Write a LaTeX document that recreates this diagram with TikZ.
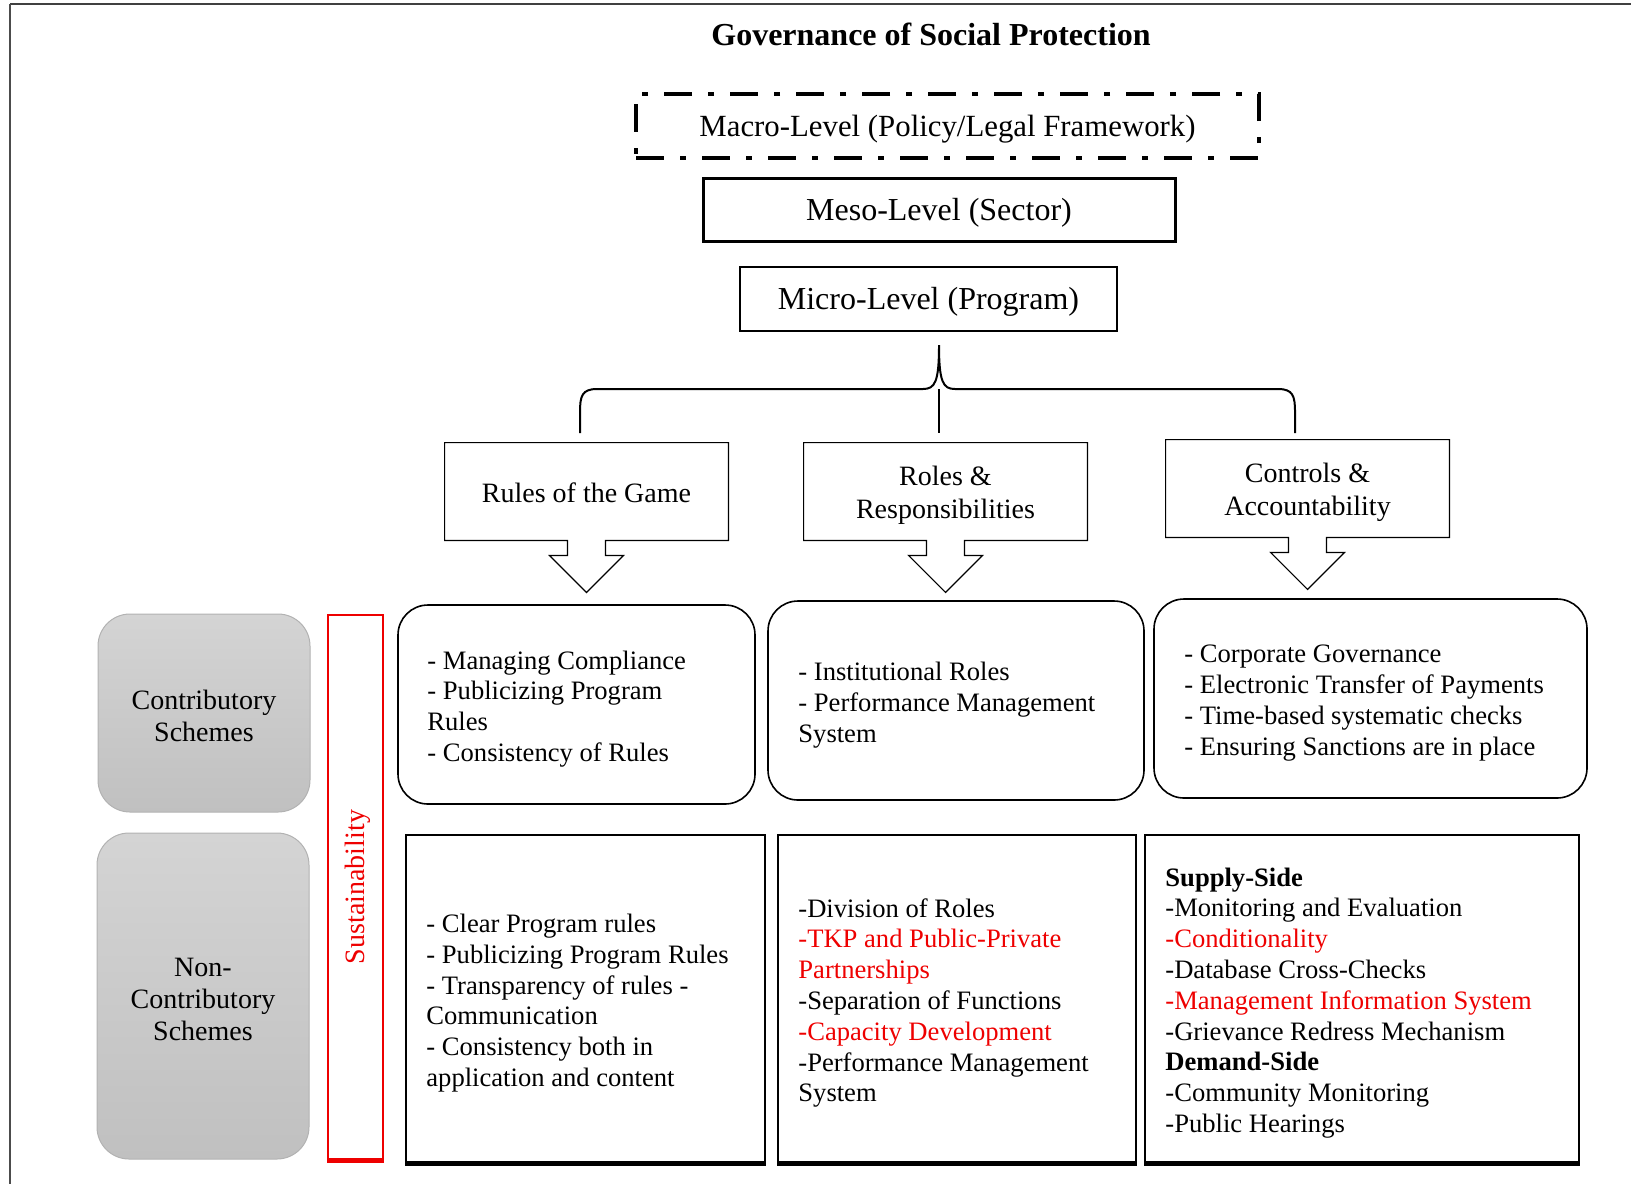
\documentclass[tikz,border=0pt]{standalone}
\usepackage{fontspec}
\setmainfont{Liberation Serif}
\definecolor{sred}{RGB}{238,0,0}
\definecolor{gtop}{RGB}{212,212,212}
\definecolor{gbot}{RGB}{192,192,192}
\begin{document}
\begin{tikzpicture}[x=0.5pt,y=-0.5pt,
  lvltext/.style={font=\fontsize{16}{19}\selectfont, inner sep=0pt, text height=13pt, text depth=2.5pt},
  calltext/.style={font=\fontsize{14}{16.5}\selectfont, align=center, inner sep=0pt},
  bodytext/.style={font=\fontsize{13.3}{15.4}\selectfont, align=left, inner sep=0pt, anchor=west},
  callbox/.style={minimum width=141.5pt, minimum height=48.5pt, inner sep=0pt},
  roundbox/.style={draw, line width=0.8pt, rounded corners=15pt, minimum height=99.5pt, inner sep=0pt},
  sqbox/.style={draw, line width=0.9pt, minimum height=163.5pt, inner sep=0pt},
  graybox/.style={draw=black!30, line width=0.5pt, rounded corners=16pt, top color=gtop, bottom color=gbot, minimum width=106pt, inner sep=0pt, align=center, font=\fontsize{14}{16}\selectfont},
  callarrow/.style={line width=0.6pt}
]
\useasboundingbox (0,0) rectangle (1631,1184);
% frame
\coordinate (ftl) at (10,4);
\coordinate (ftr) at (1631,4);
\coordinate (fbl) at (10,1184);
\draw[line width=1.1pt, black!75] (ftl) -- (ftr);
\draw[line width=0.6pt, black!70] (ftl) -- (fbl);

% title
\node (title) at (931,34) {\fontsize{16}{19}\selectfont\bfseries Governance of Social Protection};

% levels
\node (macro) [draw, line width=2.2pt, dash pattern=on 14pt off 8pt on 3pt off 8pt, minimum width=311.5pt, minimum height=32pt, lvltext, font=\fontsize{15.4}{18}\selectfont] at (947.5,126) {Macro-Level (Policy/Legal Framework)};
\node (meso) [draw, line width=1.5pt, minimum width=236pt, minimum height=31.5pt, lvltext] at (939,209.5) {Meso-Level (Sector)};
\node (micro) [draw, line width=1pt, minimum width=188.5pt, minimum height=32pt, lvltext] at (928.5,299) {Micro-Level (Program)};

% callout boxes
\node (rules) [callbox] at (586.5,491.5) {};
\node (roles) [callbox] at (945.5,491.5) {};
\node (controls) [callbox] at (1307.5,488.5) {};
\node (rulestext) [calltext] at (586.5,493) {Rules of the Game};
\node (rolestext) [calltext] at (945.5,495) {Roles \&\\Responsibilities};
\node (controlstext) [calltext] at (1307.5,492.5) {Controls \&\\Accountability};
\foreach \n in {rules,roles,controls}{
  \draw[callarrow] (\n.north west) -- (\n.north east) -- (\n.south east)
    -- ([xshift=9.5pt]\n.south) -- ++(0pt,-7.5pt) -- ++(9pt,0pt)
    -- ([yshift=-26pt]\n.south) -- ([xshift=-18.5pt,yshift=-7.5pt]\n.south)
    -- ++(9pt,0pt) -- ([xshift=-9.5pt]\n.south) -- (\n.south west) -- cycle;
}

% brace
\coordinate (btip) at (939,345);
\coordinate (bmid) at (939,389);
\coordinate (bl) at (580,433);
\coordinate (br) at (1295,433);
\coordinate (bm) at (939,433);
\draw[line width=1pt] (bl) -- (580,412) .. controls (580,396) and (582,389) .. (597,389)
  -- (923,389) .. controls (935,389) and (939,382) .. (btip)
  .. controls (939,382) and (943,389) .. (955,389)
  -- (1278,389) .. controls (1293,389) and (1295,396) .. (1295,412) -- (br);
\draw[line width=1pt] (bmid) -- (bm);

% row 1 rounded boxes
\node (r1) [roundbox, minimum width=178.5pt] at (576.5,704.5) {};
\node (r2) [roundbox, minimum width=188pt] at (956,700.5) {};
\node (r3) [roundbox, minimum width=216.5pt] at (1370.5,698.5) {};
\node (t1) [bodytext] at (427,709) {- Managing Compliance\\- Publicizing Program\\Rules\\- Consistency of Rules};
\node (t2) [bodytext] at (798,705) {- Institutional Roles\\- Performance Management\\System};
\node (t3) [bodytext] at (1184,703) {- Corporate Governance\\- Electronic Transfer of Payments\\- Time-based systematic checks\\- Ensuring Sanctions are in place};

% row 2 boxes
\node (s1) [sqbox, minimum width=179.5pt] at (585.5,998.5) {};
\node (s2) [sqbox, minimum width=179pt] at (957,998.5) {};
\node (s3) [sqbox, minimum width=217pt] at (1362,998.5) {};
\foreach \n in {s1,s2,s3}{
  \draw[line width=1.6pt] ([yshift=-0.6pt]\n.south west) -- ([yshift=-0.6pt]\n.south east);
}
\node (u1) [bodytext] at (426,1003) {- Clear Program rules\\- Publicizing Program Rules\\- Transparency of rules -\\Communication\\- Consistency both in\\application and content};
\node (u2) [bodytext] at (798,1003) {-Division of Roles\\\textcolor{sred}{-TKP and Public-Private}\\\textcolor{sred}{Partnerships}\\-Separation of Functions\\\textcolor{sred}{-Capacity Development}\\-Performance Management\\System};
\node (u3) [bodytext] at (1165,1003) {\textbf{Supply-Side}\\-Monitoring and Evaluation\\\textcolor{sred}{-Conditionality}\\-Database Cross-Checks\\\textcolor{sred}{-Management Information System}\\-Grievance Redress Mechanism\\\textbf{Demand-Side}\\-Community Monitoring\\-Public Hearings};

% gray scheme boxes
\node (g1) [graybox, minimum height=99pt] at (204,713) {};
\node (g2) [graybox, minimum height=163pt] at (203,996) {};
\node (g1text) [align=center, inner sep=0pt, font=\fontsize{14}{16}\selectfont] at (204,716) {Contributory\\Schemes};
\node (g2text) [align=center, inner sep=0pt, font=\fontsize{14}{16}\selectfont] at (203,999) {Non-\\Contributory\\Schemes};

% sustainability
\node (sus) [draw=sred, line width=1pt, minimum width=27.5pt, minimum height=272pt, inner sep=0pt] at (355.5,887) {};
\draw[sred, line width=1.6pt] ([yshift=-0.6pt]sus.south west) -- ([yshift=-0.6pt]sus.south east);
\node (sustext) [rotate=90, text=sred, font=\fontsize{14}{16}\selectfont, inner sep=0pt] at (358,887) {Sustainability};
\end{tikzpicture}
\end{document}
